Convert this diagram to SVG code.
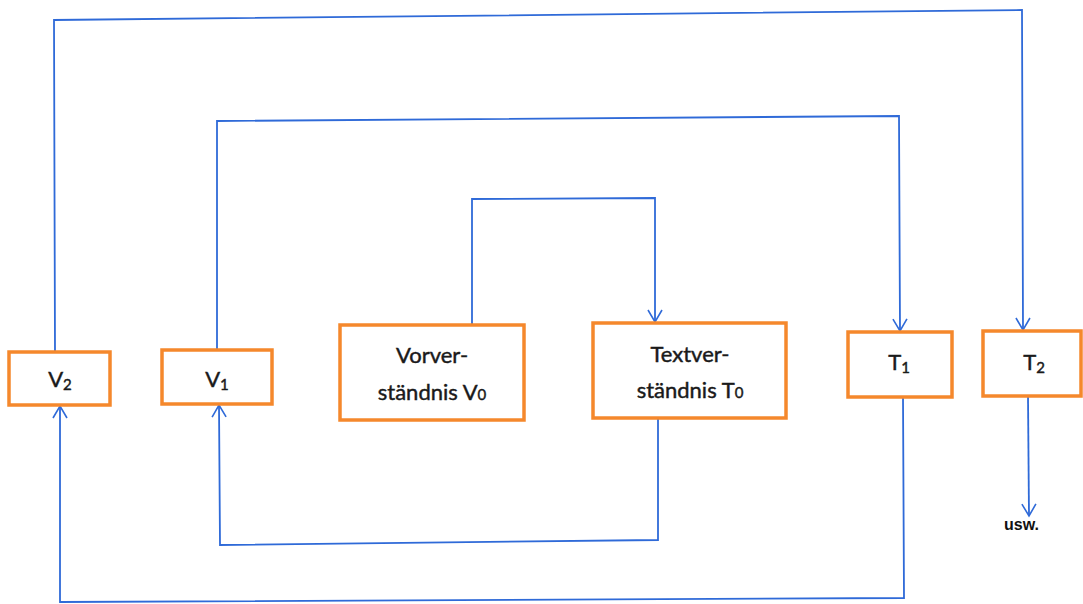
<svg xmlns="http://www.w3.org/2000/svg" width="1083" height="604" viewBox="0 0 1083 604">
<defs>
<marker id="arr" viewBox="0 0 16 16" refX="14" refY="8" markerWidth="16" markerHeight="16" markerUnits="userSpaceOnUse" orient="auto">
<path d="M2,1 L14,8 L2,15" fill="none" stroke="#2f6ad8" stroke-width="1.6"/>
</marker>
</defs>
<style>
.box{fill:#fff;stroke:#f5882c;stroke-width:3.5}
.lbl{font-family:Lato,"Open Sans","Liberation Sans",sans-serif;font-size:22px;fill:#1a1a1a;stroke:#1a1a1a;stroke-width:0.45;text-anchor:middle}
.sub{font-size:15px}
.con{fill:none;stroke:#2f6ad8;stroke-width:1.8}
.usw{font-family:"Liberation Sans",Arial,sans-serif;font-weight:bold;font-size:16px;fill:#111}
</style>
<rect width="1083" height="604" fill="#fff"/>
<g id="connectors">
<polyline class="con" points="55,352 54,20 1022,10 1023,330" marker-end="url(#arr)"/>
<polyline class="con" points="217,349 217,121 899,116 900,331" marker-end="url(#arr)"/>
<polyline class="con" points="472,325 472,199 655,198 655,322" marker-end="url(#arr)"/>
<polyline class="con" points="658,418 658,540 220,545 219,405" marker-end="url(#arr)"/>
<polyline class="con" points="903,397 904,598 60,602 60,406" marker-end="url(#arr)"/>
<polyline class="con" points="1028,396 1029,516" marker-end="url(#arr)"/>
</g>
<g id="V2">
<rect class="box" x="9" y="352" width="101" height="53"/>
<text class="lbl" x="60" y="387">V<tspan class="sub" dy="3">2</tspan></text>
</g>
<g id="V1">
<rect class="box" x="162" y="350" width="110" height="54"/>
<text class="lbl" x="217" y="387">V<tspan class="sub" dy="3">1</tspan></text>
</g>
<g id="V0">
<rect class="box" x="340" y="325" width="184" height="95"/>
<text class="lbl" x="432" y="363">Vorver-</text>
<text class="lbl" x="432" y="400">ständnis V<tspan class="sub" dy="0">0</tspan></text>
</g>
<g id="T0">
<rect class="box" x="593" y="323" width="193" height="95"/>
<text class="lbl" x="690" y="362">Textver-</text>
<text class="lbl" x="690" y="398">ständnis T<tspan class="sub" dy="0">0</tspan></text>
</g>
<g id="T1">
<rect class="box" x="848" y="332" width="104" height="65"/>
<text class="lbl" x="899" y="370">T<tspan class="sub" dy="3">1</tspan></text>
</g>
<g id="T2">
<rect class="box" x="983" y="331" width="98" height="65"/>
<text class="lbl" x="1034" y="370">T<tspan class="sub" dy="3">2</tspan></text>
</g>
<text class="usw" x="1004" y="530">usw.</text>
</svg>
